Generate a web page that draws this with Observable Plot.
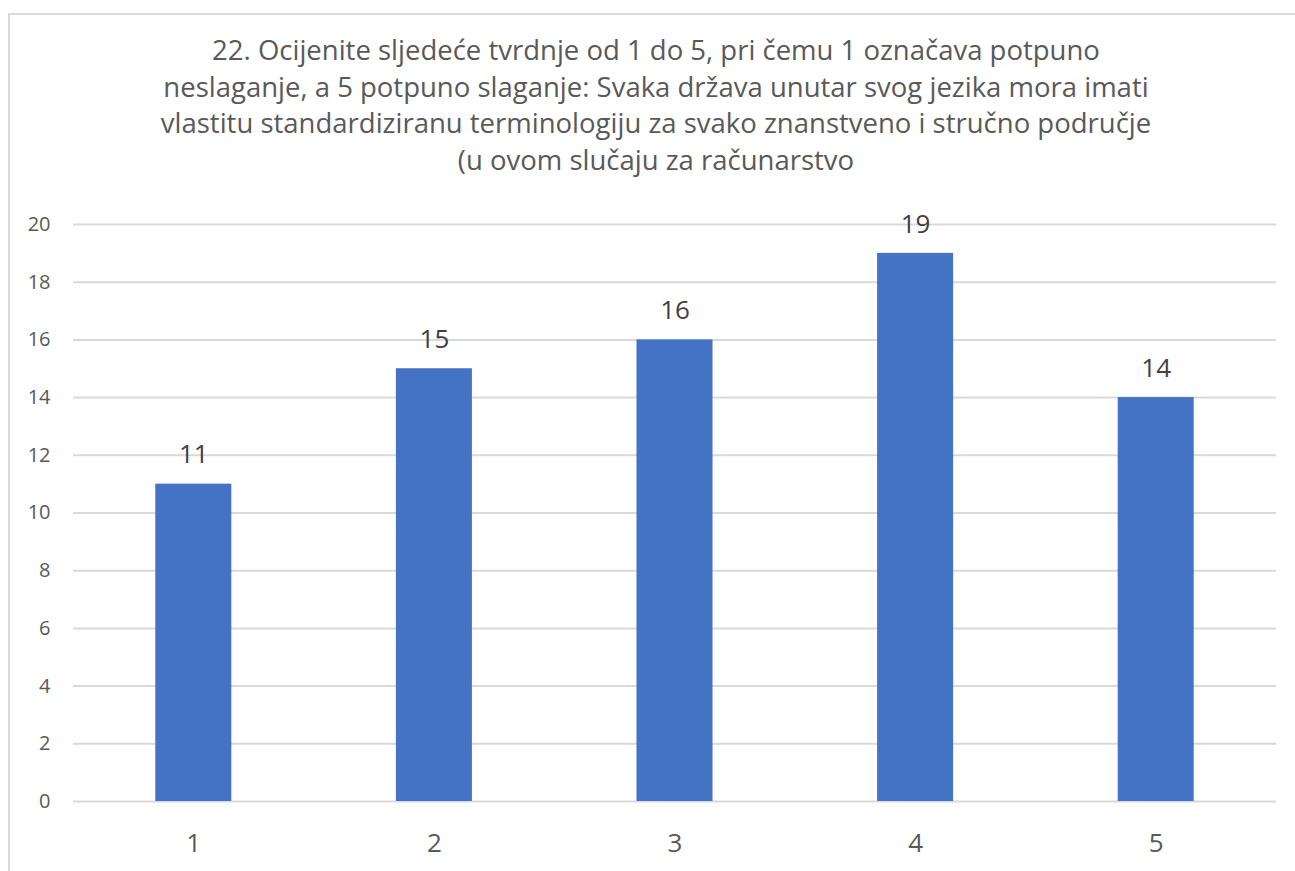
<!DOCTYPE html>
<html>
<head>
<meta charset="utf-8">
<script src="https://cdn.jsdelivr.net/npm/d3@7"></script>
<script src="https://cdn.jsdelivr.net/npm/@observablehq/plot@0.6"></script>
<style>
  html, body { margin: 0; padding: 0; background: #fff; width: 1295px; height: 871px; overflow: hidden; }
  #frame { position: absolute; left: 8px; top: 13px; width: 1320px; height: 900px; border: 2px solid #d9d9d9; box-sizing: border-box; }
  #title { position: absolute; left: 9px; width: 1294px; top: 32px; text-align: center; font-family: "Open Sans", sans-serif; font-size: 27.5px; line-height: 36.7px; color: #595959; }
  #chart { position: absolute; left: 0; top: 185px; }
</style>
</head>
<body>
<div id="frame"></div>
<div id="title">22. Ocijenite sljedeće tvrdnje od 1 do 5, pri čemu 1 označava potpuno<br>neslaganje, a 5 potpuno slaganje: Svaka država unutar svog jezika mora imati<br>vlastitu standardiziranu terminologiju za svako znanstveno i stručno područje<br>(u ovom slučaju za računarstvo</div>
<div id="chart"></div>
<script>
const categories = ["1", "2", "3", "4", "5"];
const values = [11, 15, 16, 19, 14];
const yTicks = [0, 2, 4, 6, 8, 10, 12, 14, 16, 18, 20];

const data = categories.map((c, i) => ({cat: c, value: values[i]}));

const chart = Plot.plot({
  width: 1295,
  height: 686,
  marginLeft: 73,
  marginRight: 19,
  marginTop: 39,
  marginBottom: 70,
  style: { fontFamily: "'Open Sans', sans-serif", color: "#595959", background: "transparent" },
  x: { domain: categories, paddingInner: 0.684, paddingOuter: 0.342, round: false, label: null },
  y: { domain: [0, 20], label: null },
  marks: [
    Plot.gridY(yTicks, { stroke: "#d9d9d9", strokeOpacity: 1, strokeWidth: 2 }),
    Plot.barY(data, { x: "cat", y: "value", fill: "#4472c4" }),
    Plot.text(data, { x: "cat", y: "value", text: d => String(d.value), dy: -29, fontSize: 26, fill: "#404040" }),
    Plot.axisY(yTicks, { tickSize: 0, tickPadding: 23, fontSize: 20, fill: "#595959", label: null }),
    Plot.axisX({ tickSize: 0, tickPadding: 32, fontSize: 26, fill: "#595959", label: null })
  ]
});
document.getElementById("chart").appendChild(chart);
</script>
</body>
</html>
